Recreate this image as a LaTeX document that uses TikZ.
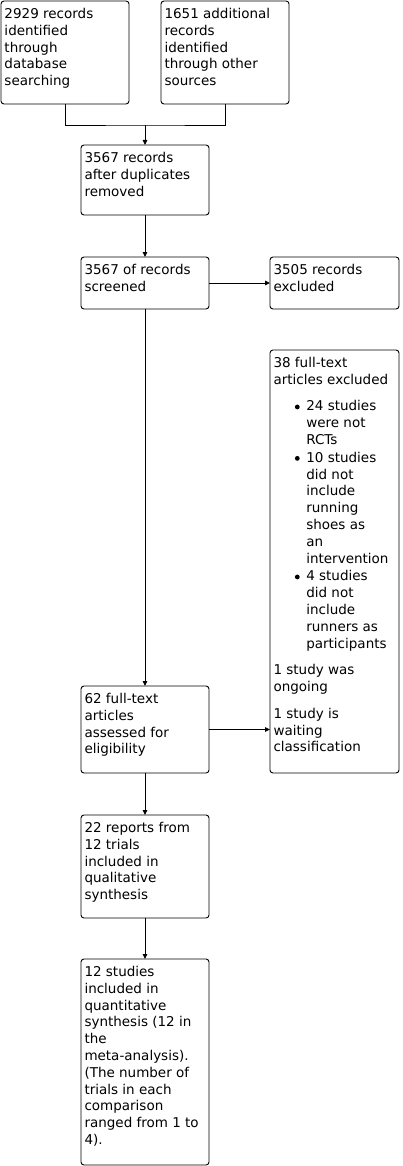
\documentclass[tikz,border=0pt]{standalone}
\usepackage{fontspec}
\setmainfont{DejaVu Sans}
\usetikzlibrary{arrows.meta}
\newcommand\flowbox[6]{\node[boxst] (#1) at (#2pt,-#3pt) {\parbox[t][\dimexpr #5pt-11.4pt\relax][t]{\dimexpr #4pt-7pt\relax}{\strut #6}};}
\newcommand\bitem{\hspace*{21.4pt}\makebox[11.4pt][l]{\raisebox{1.6pt}{\tikz\fill[black] (0,0) circle (2.4pt);}}}
\newcommand\bcont{\hspace*{32.8pt}}
\tikzset{
  boxst/.style={draw=black, line width=0.9pt, rounded corners=3pt, anchor=north west,
    outer sep=0pt, inner xsep=3.5pt, inner ysep=5.7pt, font=\fontsize{13.5pt}{16.8pt}\selectfont},
  conn/.style={line width=0.9pt, draw=black},
  arr/.style={conn, -{Triangle[length=5pt,width=4.5pt]}}
}
\begin{document}
\begin{tikzpicture}[x=1pt,y=1pt]
\useasboundingbox (0,0) rectangle (402,-1166);
\flowbox{A}{1}{1}{128}{103}{2929 records\\identified\\through\\database\\searching}
\flowbox{B}{161}{1}{128}{103}{1651 additional\\records\\identified\\through other\\sources}
\flowbox{C}{81}{145}{128}{70}{3567 records\\after duplicates\\removed}
\flowbox{D}{81}{257}{128}{52}{3567 of records\\screened}
\flowbox{E}{270}{257}{129}{52}{3505 records\\excluded}
\flowbox{F}{270}{350}{129}{423}{38 full-text\\articles excluded\\[9.9pt]
\bitem 24 studies\\\bcont were not\\\bcont RCTs\\[1pt]
\bitem 10 studies\\\bcont did not\\\bcont include\\\bcont running\\\bcont shoes as\\\bcont an\\\bcont intervention\\[1pt]
\bitem 4 studies\\\bcont did not\\\bcont include\\\bcont runners as\\\bcont participants\\[9.9pt]
1 study was\\ongoing\\[9.9pt]
1 study is\\waiting\\classification}
\flowbox{G}{81}{686}{128}{87}{62 full-text\\articles\\assessed for\\eligibility}
\flowbox{H}{81}{815}{128}{103}{22 reports from\\12 trials\\included in\\qualitative\\synthesis}
\flowbox{I}{81}{959}{128}{206}{12 studies\\included in\\quantitative\\synthesis (12 in\\the\\meta-analysis).\\(The number of\\trials in each\\comparison\\ranged from 1 to\\4).}
\coordinate (m) at (145,-125);
\draw[conn] (A.south) |- (m) -| (B.south);
\draw[arr] (m) -- (C.north);
\draw[arr] (C.south) -- (D.north);
\draw[arr] (D.east) -- (E.west);
\draw[arr] (D.south) -- (G.north);
\draw[arr] (G.east) -- (G.east -| F.west);
\draw[arr] (G.south) -- (H.north);
\draw[arr] (H.south) -- (I.north);
\end{tikzpicture}
\end{document}
